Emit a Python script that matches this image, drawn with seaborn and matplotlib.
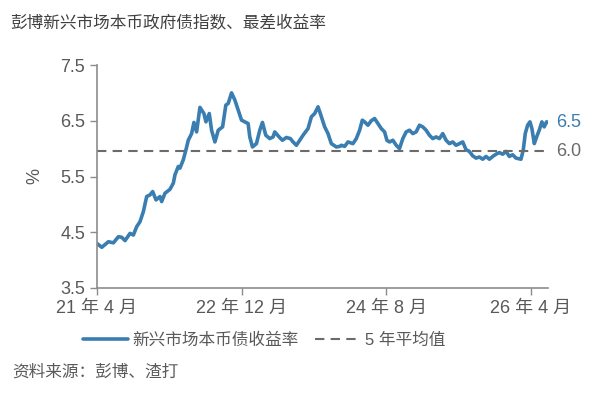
import numpy as np
import pandas as pd
import matplotlib
matplotlib.use("Agg")
import matplotlib.pyplot as plt
import seaborn as sns

# months after 2021-04-01 and yield (%)
months = [0, 0.69, 1.6, 2.29, 2.98, 3.44, 3.9, 4.59, 5.05, 5.51, 5.97, 6.43, 6.89,
          7.35, 7.72, 8.18, 8.73, 8.96, 9.42, 10.11, 10.57, 10.8, 11.26, 11.49, 11.95,
          12.32, 12.64, 13.1, 13.42, 13.79, 14.25, 14.8, 15.08, 15.54, 15.86, 16.32,
          16.78, 17.38, 17.83, 18.16, 18.62, 19.08, 19.54, 20.0, 20.46, 20.91, 21.14,
          21.51, 22.06, 22.52, 22.89, 23.35, 23.9, 24.36, 24.59, 25.19, 25.65, 26.2,
          26.75, 27.12, 27.58, 28.04, 28.5, 29.19, 29.65, 30.11, 30.57, 30.89, 31.49,
          31.95, 32.41, 33.1, 33.56, 33.79, 34.25, 34.71, 35.4, 35.86, 36.32, 36.69,
          37.01, 37.47, 37.93, 38.39, 38.85, 39.31, 39.77, 40.09, 40.46, 40.91, 41.38,
          41.83, 42.29, 42.75, 43.21, 43.67, 44.13, 44.59, 45.05, 45.51, 45.97, 46.43,
          46.89, 47.35, 47.81, 48.27, 48.73, 49.19, 49.65, 50.11, 50.57, 51.03, 51.49,
          51.95, 52.41, 52.87, 53.33, 53.79, 54.25, 54.71, 55.17, 55.63, 56.09, 56.55,
          57.01, 57.47, 57.93, 58.62, 58.94, 59.21, 59.54, 59.86, 60.13, 60.46, 60.78,
          61.14, 61.51, 61.83, 62.16, 62.39]
yields = [4.30, 4.23, 4.33, 4.31, 4.42, 4.41, 4.35, 4.48, 4.45, 4.60, 4.69, 4.87, 5.14,
          5.17, 5.23, 5.08, 5.14, 5.05, 5.20, 5.27, 5.38, 5.53, 5.68, 5.65, 5.80,
          5.98, 6.15, 6.27, 6.47, 6.30, 6.74, 6.63, 6.48, 6.63, 6.33, 6.12,
          6.33, 6.39, 6.78, 6.81, 7.00, 6.87, 6.69, 6.51, 6.48, 6.45, 6.21,
          6.03, 6.09, 6.33, 6.47, 6.24, 6.18, 6.21, 6.30, 6.21, 6.15, 6.20,
          6.18, 6.12, 6.06, 6.15, 6.24, 6.36, 6.57, 6.63, 6.75, 6.63, 6.39,
          6.27, 6.09, 6.03, 6.04, 6.06, 6.04, 6.12, 6.09, 6.18, 6.33, 6.51,
          6.48, 6.42, 6.50, 6.54, 6.45, 6.36, 6.30, 6.15, 6.12, 6.15, 6.06,
          6.00, 6.18, 6.30, 6.33, 6.27, 6.30, 6.42, 6.39, 6.33, 6.24, 6.18,
          6.21, 6.18, 6.27, 6.15, 6.09, 6.12, 6.06, 6.09, 6.12, 5.98, 5.95,
          5.87, 5.83, 5.85, 5.81, 5.86, 5.81, 5.86, 5.90, 5.93, 5.90, 5.95,
          5.86, 5.89, 5.83, 5.81, 5.98, 6.27, 6.42, 6.48, 6.36, 6.09, 6.21,
          6.33, 6.48, 6.39, 6.48, 6.47]
avg_5y = 5.95
tick_dates = ["2021-04-01", "2022-12-01", "2024-08-01", "2026-04-01"]
tick_labels = ["21 年 4 月", "22 年 12 月", "24 年 8 月", "26 年 4 月"]
y_ticks = [3.5, 4.5, 5.5, 6.5, 7.5]

start = pd.Timestamp("2021-04-01")
df = pd.DataFrame({
    "date": start + pd.to_timedelta(np.array(months) * 30.44, unit="D"),
    "yield": yields,
})

sns.set_style("white")
plt.rcParams["font.family"] = ["Liberation Sans", "Noto Sans CJK SC", "DejaVu Sans"]

blue = "#3a7db0"
grey = "#6b6b6b"
txt = "#595959"

fig = plt.figure(figsize=(5.94, 4.0), dpi=100)
ax = fig.add_axes([0.163, 0.28, 0.76, 0.5575])

sns.lineplot(data=df, x="date", y="yield", ax=ax, color=blue, linewidth=2.6,
             label="新兴市场本币债收益率")
ax.axhline(avg_5y, color=grey, linewidth=1.5, dashes=(4.5, 3), label="5 年平均值")

ax.set_ylim(3.5, 7.5)
ax.set_yticks(y_ticks)
ax.set_yticklabels([f"{v:.1f}" for v in y_ticks])
ax.set_xlim(df["date"].iloc[0], df["date"].iloc[-1])
ax.set_xticks(pd.to_datetime(tick_dates))
ax.set_xticklabels(tick_labels)

ax.set_xlabel("")
ax.set_ylabel("%", fontsize=13, color=txt, labelpad=12)
ax.tick_params(axis="both", labelsize=13, colors=txt, length=5, width=1,
               direction="out", left=True, bottom=True, color="#8c8c8c")
for side in ["top", "right"]:
    ax.spines[side].set_visible(False)
for side in ["left", "bottom"]:
    ax.spines[side].set_color("#8c8c8c")
    ax.spines[side].set_linewidth(1.2)

# end labels
ax.annotate(f"{yields[-1]:.1f}", xy=(1, yields[-1]), xycoords=("axes fraction", "data"),
            xytext=(6, 0), textcoords="offset points", color=blue, fontsize=13,
            va="center", ha="left")
ax.annotate("6.0", xy=(1, avg_5y), xycoords=("axes fraction", "data"),
            xytext=(6, 0), textcoords="offset points", color=grey, fontsize=13,
            va="center", ha="left")

ax.legend(loc="center left", bbox_to_anchor=(0.115, 0.15), bbox_transform=fig.transFigure,
          ncol=2, frameon=False, fontsize=12, handlelength=2.7, columnspacing=1.0,
          handletextpad=0.25, labelcolor=txt)

fig.text(0.017, 0.945, "彭博新兴市场本币政府债指数、最差收益率", fontsize=12,
         color="#404040", va="center", ha="left")
fig.text(0.02, 0.07, "资料来源：彭博、渣打", fontsize=12, color=txt,
         va="center", ha="left")

fig.savefig("out.png", dpi=100)
